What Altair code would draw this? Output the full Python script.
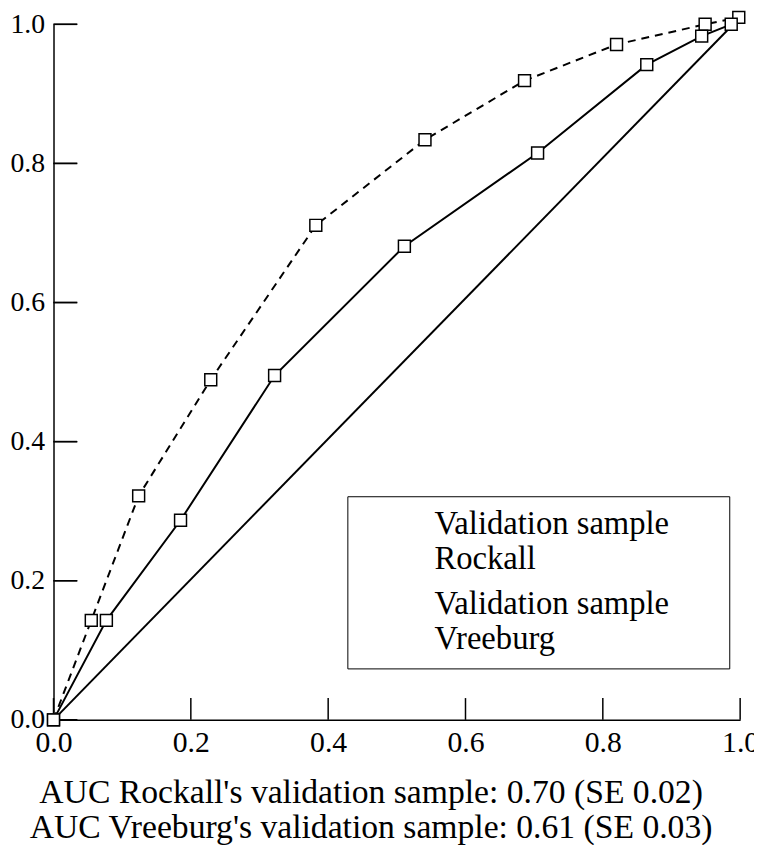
import altair as alt
import pandas as pd

# ---- data ----
series_names = ["Rockall", "Vreeburg"]
legend_prefix = "Validation sample"

rockall_fpr = [0.0, 0.055, 0.124, 0.229, 0.382, 0.541, 0.686, 0.820, 0.949, 0.998]
rockall_tpr = [0.0, 0.143, 0.322, 0.489, 0.711, 0.834, 0.919, 0.971, 1.000, 1.010]

vreeburg_fpr = [0.0, 0.077, 0.185, 0.322, 0.511, 0.705, 0.864, 0.944, 0.987]
vreeburg_tpr = [0.0, 0.143, 0.287, 0.495, 0.681, 0.815, 0.942, 0.983, 1.000]

diag_fpr = [0.0, 0.985]
diag_tpr = [0.0, 0.995]

tick_values = [0.0, 0.2, 0.4, 0.6, 0.8, 1.0]

footnotes = [
    "AUC Rockall's validation sample: 0.70 (SE 0.02)",
    "AUC Vreeburg's validation sample: 0.61 (SE 0.03)",
]

# ---- tables ----
rows = []
for name, xs, ys in [(series_names[0], rockall_fpr, rockall_tpr),
                     (series_names[1], vreeburg_fpr, vreeburg_tpr)]:
    for i, (x, y) in enumerate(zip(xs, ys)):
        rows.append({"series": name, "step": i, "fpr": x, "tpr": y})
curves = pd.DataFrame(rows)
diag = pd.DataFrame({"fpr": diag_fpr, "tpr": diag_tpr})
ticks = pd.DataFrame({"tick": tick_values})

FONT = "Liberation Serif"
W, H = 694, 703

xscale = alt.Scale(domain=[0, 1], nice=False, zero=False)
yscale = alt.Scale(domain=[0, 1], nice=False, zero=False)

x_axis = alt.Axis(orient="bottom", values=tick_values, format=".1f", ticks=False,
                  domainColor="black", domainWidth=1.5, labelFont=FONT,
                  labelFontSize=30, labelColor="black", labelPadding=8,
                  labelFlush=False, grid=False, title=None)
y_axis = alt.Axis(orient="left", values=tick_values, format=".1f", ticks=False,
                  domainColor="black", domainWidth=1.5, labelFont=FONT,
                  labelFontSize=28, labelColor="black", labelPadding=9,
                  labelFlush=False, grid=False, title=None)

diag_layer = alt.Chart(diag).mark_line(color="black", strokeWidth=2).encode(
    x=alt.X("fpr:Q", scale=xscale, axis=x_axis),
    y=alt.Y("tpr:Q", scale=yscale, axis=y_axis),
)

# inward-pointing tick marks at the tick values
x_ticks = alt.Chart(ticks).mark_rule(color="black", strokeWidth=1.5).encode(
    x="tick:Q", y=alt.value(H - 22), y2=alt.value(H),
)
y_ticks = alt.Chart(ticks).mark_rule(color="black", strokeWidth=1.5).encode(
    y="tick:Q", x=alt.value(0), x2=alt.value(24),
)
# same ticks drawn as horizontal "stroke" symbols centred 12 px inside the axis
y_ticks_sym = alt.Chart(ticks).mark_point(
    shape="stroke", size=576, filled=False, color="black", strokeWidth=1.5, opacity=1
).encode(
    y="tick:Q", x=alt.value(12),
)

rockall_line = alt.Chart(curves).transform_filter(
    alt.datum.series == series_names[0]
).mark_line(color="black", strokeWidth=2, strokeDash=[8, 6]).encode(
    x="fpr:Q", y="tpr:Q", order="step:Q",
)

vreeburg_line = alt.Chart(curves).transform_filter(
    alt.datum.series == series_names[1]
).mark_line(color="black", strokeWidth=2).encode(
    x="fpr:Q", y="tpr:Q", order="step:Q",
)

point_layer = alt.Chart(curves).mark_point(
    shape="square", size=145, filled=True, color="white", stroke="black",
    strokeWidth=1.5, opacity=1
).encode(x="fpr:Q", y="tpr:Q")

# legend symbols (unit = 15 px): a line with a small open square in it
rock_symbol = ("M-1,0L-0.47,0M-0.07,0L0.63,0M1.37,0L1.9,0M2.33,0L2.87,0"
               "M0.63,-0.37L1.37,-0.37L1.37,0.37L0.63,0.37Z")
vree_symbol = ("M-1,0L0.63,0M1.37,0L2.87,0"
               "M0.63,-0.37L1.37,-0.37L1.37,0.37L0.63,0.37Z")
pad = "\u2800" * 2

legend = alt.Legend(
    title=None, orient="none", legendX=297, legendY=477,
    strokeColor="black", fillColor="white", padding=12,
    labelFont=FONT, labelFontSize=33, labelColor="black", labelOffset=43,
    labelLimit=600, rowPadding=12, symbolSize=900, symbolStrokeWidth=1.8,
    symbolOpacity=1, symbolFillColor="white", symbolStrokeColor="black",
    labelExpr=f"['{legend_prefix}{pad}', datum.label]",
)

# legend-only layer: draws no marks (its rows are filtered away), only the legend
legend_layer = alt.Chart(curves).transform_filter("false").mark_point(
    filled=True, color="white", stroke="black", strokeWidth=1.8, opacity=1
).encode(
    x="fpr:Q", y="tpr:Q",
    shape=alt.Shape("series:N",
                    scale=alt.Scale(domain=series_names, range=[rock_symbol, vree_symbol]),
                    legend=legend),
)

chart = alt.layer(
    diag_layer, x_ticks, y_ticks, y_ticks_sym, rockall_line, vreeburg_line,
    legend_layer, point_layer
).properties(
    width=W, height=H,
    autosize=alt.AutoSizeParams(type="none"),
    padding={"left": 46, "top": 12, "right": 14, "bottom": 122},
    background="white",
    title=alt.TitleParams(text=footnotes, orient="bottom", anchor="middle", frame="group",
                          font=FONT, fontSize=34, fontWeight="normal", color="black",
                          lineHeight=35, offset=19, dx=-26),
).configure_view(stroke=None)

chart.save("out.html", embed_options={"renderer": "svg", "actions": False})
